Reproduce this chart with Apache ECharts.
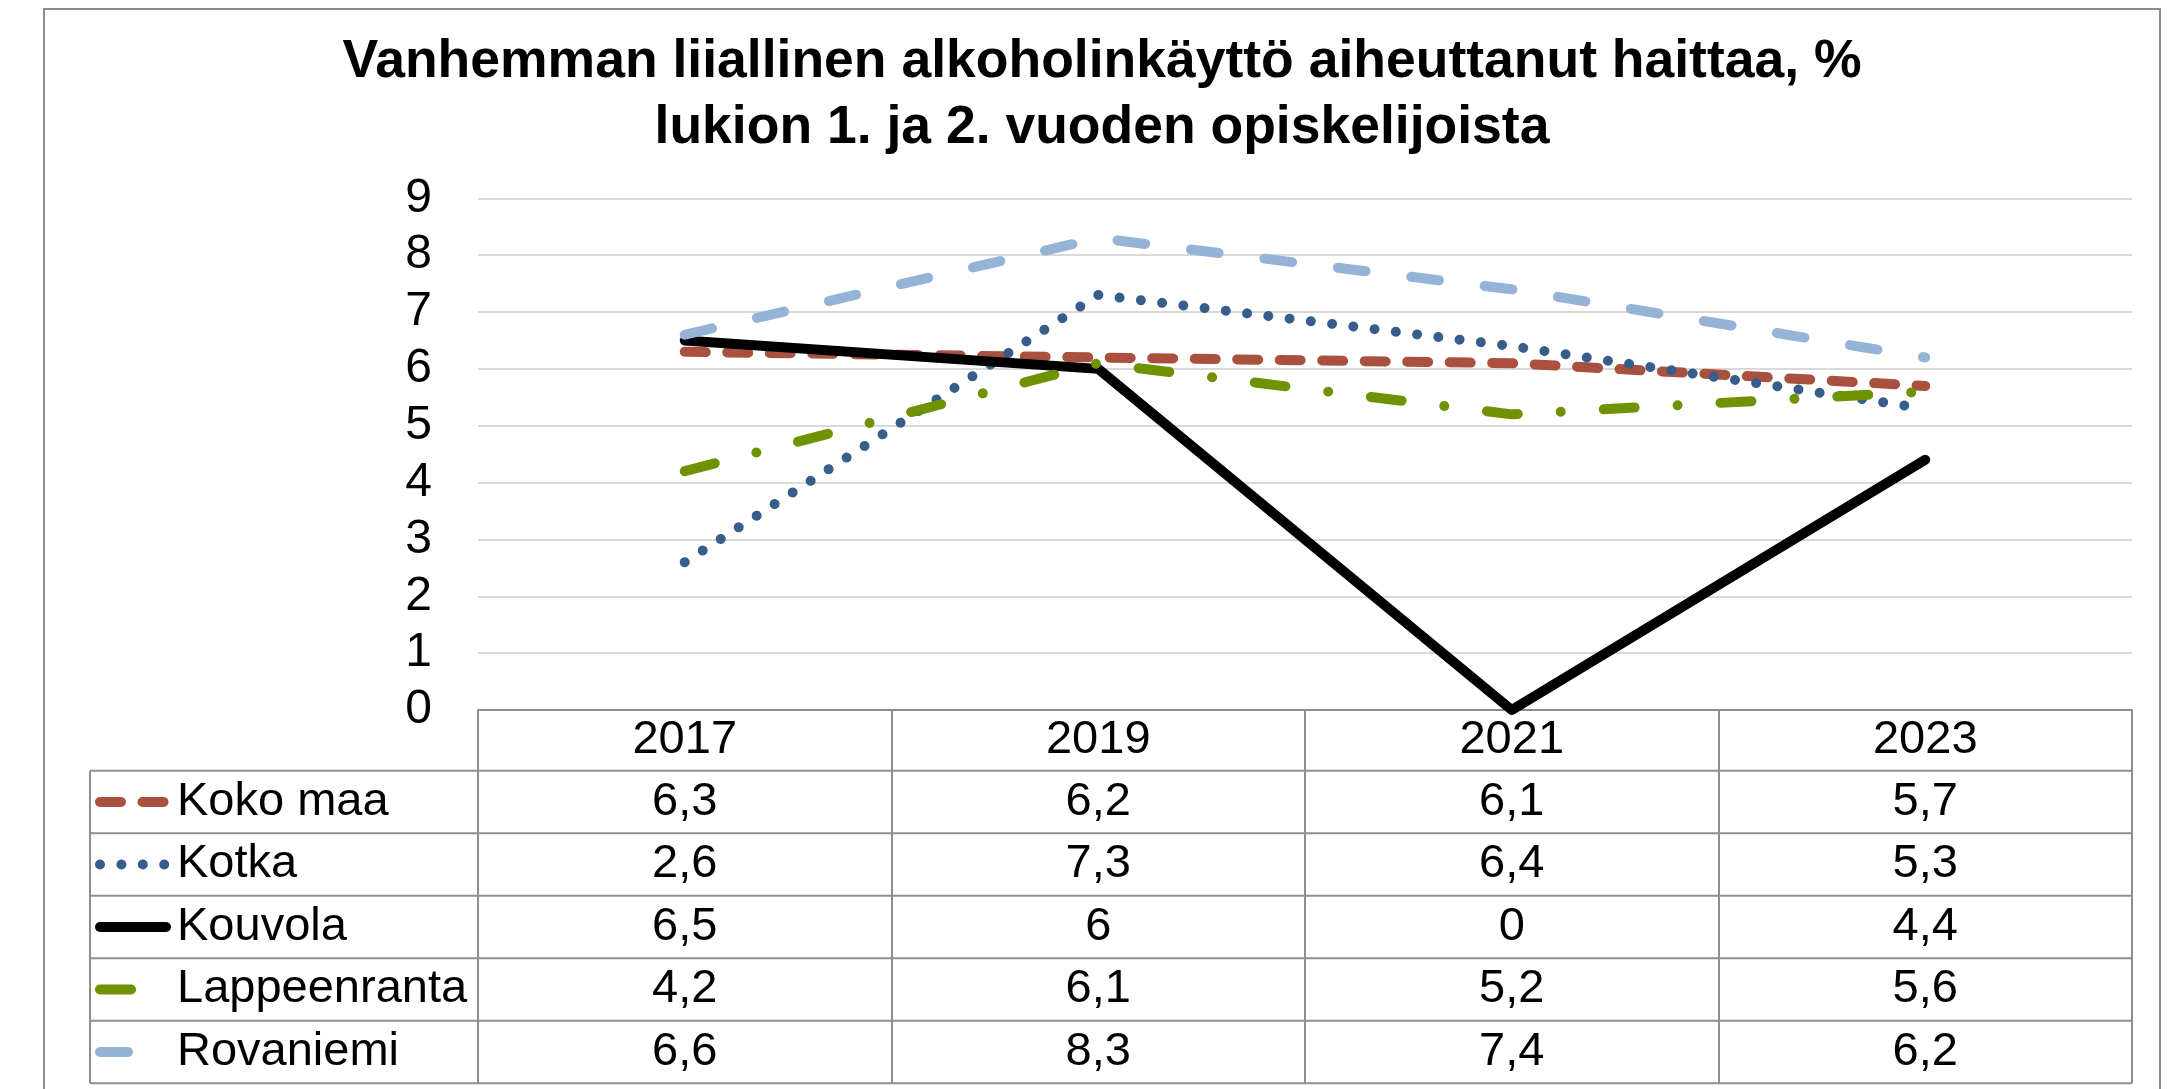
<!DOCTYPE html>
<html>
<head>
<meta charset="utf-8">
<script src="https://cdn.jsdelivr.net/npm/echarts@6/dist/echarts.min.js"></script>
<style>
html,body{margin:0;padding:0;background:#fff;}
#chart{width:2168px;height:1089px;}
</style>
</head>
<body>
<div id="chart"></div>
<script>
// data
var years = ['2017', '2019', '2021', '2023'];
var seriesNames = ['Koko maa', 'Kotka', 'Kouvola', 'Lappeenranta', 'Rovaniemi'];
var kokoMaa = [6.3, 6.2, 6.1, 5.7];
var kotka = [2.6, 7.3, 6.4, 5.3];
var kouvola = [6.5, 6, 0, 4.4];
var lappeenranta = [4.2, 6.1, 5.2, 5.6];
var rovaniemi = [6.6, 8.3, 7.4, 6.2];
var allValues = [kokoMaa, kotka, kouvola, lappeenranta, rovaniemi];

// styles per series
var lineColors = ['#A9503F', '#375D8B', '#000000', '#6F9200', '#95B3D7'];
var lineDashes = [[21, 21.5], [0.01, 21.4], 'solid', [31, 43, 0.01, 43], [28, 46]];

var font = "'Liberation Sans', Arial, sans-serif";

// table layout (data table under the plot, like excel)
var plotTop = 198.3;
var axisY = 710;        // y=0 line = top of table
var headerH = 60.7;
var rowH = 62.5;
var tableLeft = 90;
var tableRight = 2132;
var lineCol = '#8E8E8E';

function fmt(v) {
    return String(v).replace('.', ',');
}

var chart = echarts.init(document.getElementById('chart'));

var series = [];
for (var i = 0; i < seriesNames.length; i++) {
    series.push({
        name: seriesNames[i],
        type: 'line',
        data: allValues[i],
        symbol: 'none',
        clip: false,
        lineStyle: {
            color: lineColors[i],
            width: 10,
            type: lineDashes[i],
            cap: 'round',
            join: 'round'
        }
    });
}

// graphic: border, title, table rows, legend keys
var graphics = [];
graphics.push({
    type: 'rect',
    shape: {x: 44, y: 9, width: 2116, height: 1200},
    style: {fill: 'none', stroke: '#8C8C8C', lineWidth: 2},
    z: 0
});
graphics.push({
    type: 'text',
    style: {x: 1102, y: 62, text: 'Vanhemman liiallinen alkoholinkäyttö aiheuttanut haittaa, %',
        font: 'bold 53.5px ' + font, fill: '#000', align: 'center', verticalAlign: 'middle'}
});
graphics.push({
    type: 'text',
    style: {x: 1102, y: 128, text: 'lukion 1. ja 2. vuoden opiskelijoista',
        font: 'bold 53.5px ' + font, fill: '#000', align: 'center', verticalAlign: 'middle'}
});

var rowsTop = axisY + headerH;
for (var r = 0; r <= seriesNames.length; r++) {
    var yy = rowsTop + r * rowH;
    graphics.push({
        type: 'line',
        shape: {x1: tableLeft, y1: yy, x2: tableRight, y2: yy},
        style: {stroke: lineCol, lineWidth: 2}
    });
}
graphics.push({
    type: 'line',
    shape: {x1: tableLeft, y1: rowsTop, x2: tableLeft, y2: rowsTop + seriesNames.length * rowH},
    style: {stroke: lineCol, lineWidth: 2}
});

for (var k = 0; k < seriesNames.length; k++) {
    var cy = rowsTop + rowH * (k + 0.5);
    var dash = lineDashes[k] === 'solid' ? null : lineDashes[k];
    graphics.push({
        type: 'line',
        shape: {x1: 100, y1: cy, x2: 166, y2: cy},
        style: {stroke: lineColors[k], lineWidth: 10, lineCap: 'round', lineDash: dash}
    });
    graphics.push({
        type: 'text',
        style: {x: 177, y: cy, text: seriesNames[k], font: '47px ' + font, fill: '#000',
            align: 'left', verticalAlign: 'middle'}
    });
}

var option = {
    animation: false,
    grid: {left: 478, right: 2168 - tableRight, top: plotTop, bottom: 1089 - axisY},
    xAxis: {
        type: 'category',
        data: years,
        boundaryGap: true,
        axisLine: {show: true, lineStyle: {color: lineCol, width: 2}},
        axisTick: {show: true, interval: 0, length: headerH + seriesNames.length * rowH,
            lineStyle: {color: lineCol, width: 2}},
        axisLabel: {
            interval: 0,
            margin: 0,
            formatter: function (value, idx) {
                var s = '{y|' + value + '}';
                for (var j = 0; j < allValues.length; j++) {
                    s += '\n{v|' + fmt(allValues[j][idx]) + '}';
                }
                return s;
            },
            rich: {
                y: {fontSize: 47, fontFamily: font, color: '#000', lineHeight: headerH},
                v: {fontSize: 47, fontFamily: font, color: '#000', lineHeight: rowH}
            }
        }
    },
    yAxis: {
        type: 'value',
        min: 0,
        max: 9,
        interval: 1,
        axisLine: {show: false},
        axisTick: {show: false},
        axisLabel: {fontSize: 48, fontFamily: font, color: '#000', margin: 46},
        splitLine: {lineStyle: {color: '#D9D9D9', width: 2}}
    },
    graphic: graphics,
    series: series
};
chart.setOption(option);
</script>
</body>
</html>
